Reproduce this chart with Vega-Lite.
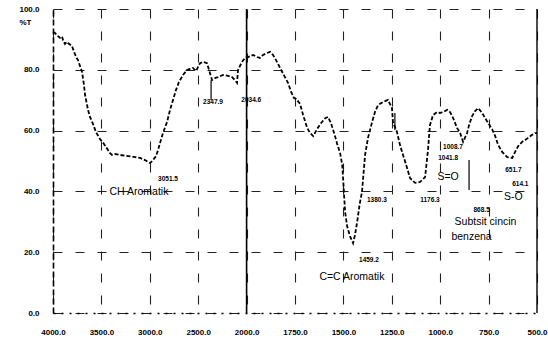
{
  "$schema": "https://vega.github.io/schema/vega-lite/v6.json",
  "width": 484,
  "height": 304,
  "autosize": "none",
  "padding": {"left": 53, "top": 9, "right": 11, "bottom": 26},
  "background": "white",
  "config": {"view": {"stroke": null}, "font": "Liberation Sans"},
  "datasets": {
    "spectrum": [
      {"wn": 4000, "t": 92.4}, {"wn": 3979, "t": 92.1}, {"wn": 3948, "t": 91.1}, {"wn": 3928, "t": 90.5},
      {"wn": 3907, "t": 91.0}, {"wn": 3897, "t": 89.8}, {"wn": 3876, "t": 88.5}, {"wn": 3856, "t": 89.2},
      {"wn": 3845, "t": 88.8}, {"wn": 3804, "t": 87.8}, {"wn": 3762, "t": 84.2}, {"wn": 3742, "t": 83.2},
      {"wn": 3700, "t": 79.3}, {"wn": 3680, "t": 75.0}, {"wn": 3669, "t": 71.7}, {"wn": 3659, "t": 70.1},
      {"wn": 3638, "t": 66.8}, {"wn": 3618, "t": 64.5}, {"wn": 3587, "t": 62.2}, {"wn": 3556, "t": 59.5},
      {"wn": 3514, "t": 57.2}, {"wn": 3473, "t": 55.6}, {"wn": 3432, "t": 53.6}, {"wn": 3411, "t": 52.6},
      {"wn": 3390, "t": 52.0}, {"wn": 3360, "t": 52.3}, {"wn": 3308, "t": 52.0}, {"wn": 3225, "t": 51.6},
      {"wn": 3153, "t": 51.3}, {"wn": 3101, "t": 51.0}, {"wn": 3050, "t": 50.3}, {"wn": 3019, "t": 49.7},
      {"wn": 2998, "t": 49.3}, {"wn": 2967, "t": 50.3}, {"wn": 2936, "t": 51.6}, {"wn": 2915, "t": 53.6},
      {"wn": 2895, "t": 55.9}, {"wn": 2864, "t": 59.2}, {"wn": 2822, "t": 62.8}, {"wn": 2791, "t": 66.8},
      {"wn": 2760, "t": 70.1}, {"wn": 2729, "t": 73.4}, {"wn": 2698, "t": 76.0}, {"wn": 2657, "t": 78.3},
      {"wn": 2616, "t": 79.9}, {"wn": 2585, "t": 80.3}, {"wn": 2554, "t": 80.6}, {"wn": 2523, "t": 79.6},
      {"wn": 2502, "t": 80.9}, {"wn": 2481, "t": 82.2}, {"wn": 2450, "t": 82.6}, {"wn": 2409, "t": 82.2},
      {"wn": 2388, "t": 79.9}, {"wn": 2357, "t": 76.6}, {"wn": 2326, "t": 77.3}, {"wn": 2295, "t": 77.6},
      {"wn": 2244, "t": 78.3}, {"wn": 2192, "t": 78.0}, {"wn": 2151, "t": 77.6}, {"wn": 2120, "t": 76.6},
      {"wn": 2099, "t": 75.7}, {"wn": 2089, "t": 79.9}, {"wn": 2048, "t": 82.6}, {"wn": 2017, "t": 83.9},
      {"wn": 1993, "t": 84.2}, {"wn": 1966, "t": 84.9}, {"wn": 1946, "t": 84.2}, {"wn": 1931, "t": 83.9},
      {"wn": 1915, "t": 84.9}, {"wn": 1895, "t": 85.5}, {"wn": 1879, "t": 85.9}, {"wn": 1864, "t": 84.9},
      {"wn": 1848, "t": 83.2}, {"wn": 1827, "t": 80.6}, {"wn": 1802, "t": 77.6}, {"wn": 1786, "t": 75.7},
      {"wn": 1770, "t": 72.7}, {"wn": 1755, "t": 70.7}, {"wn": 1744, "t": 70.4}, {"wn": 1724, "t": 68.8},
      {"wn": 1708, "t": 65.1}, {"wn": 1687, "t": 60.9}, {"wn": 1672, "t": 59.2}, {"wn": 1656, "t": 58.2},
      {"wn": 1636, "t": 60.5}, {"wn": 1615, "t": 62.5}, {"wn": 1594, "t": 64.1}, {"wn": 1579, "t": 64.5},
      {"wn": 1563, "t": 62.2}, {"wn": 1548, "t": 59.2}, {"wn": 1532, "t": 55.6}, {"wn": 1517, "t": 52.6},
      {"wn": 1506, "t": 48.7}, {"wn": 1501, "t": 43.8}, {"wn": 1496, "t": 38.2}, {"wn": 1491, "t": 33.2},
      {"wn": 1481, "t": 28.6}, {"wn": 1466, "t": 25.3}, {"wn": 1450, "t": 23.0}, {"wn": 1440, "t": 25.7},
      {"wn": 1429, "t": 29.9}, {"wn": 1419, "t": 34.5}, {"wn": 1414, "t": 36.5}, {"wn": 1404, "t": 39.8},
      {"wn": 1388, "t": 52.0}, {"wn": 1373, "t": 57.6}, {"wn": 1352, "t": 62.8}, {"wn": 1337, "t": 66.1},
      {"wn": 1321, "t": 68.4}, {"wn": 1295, "t": 69.4}, {"wn": 1270, "t": 70.1}, {"wn": 1249, "t": 67.4},
      {"wn": 1244, "t": 62.8}, {"wn": 1223, "t": 59.5}, {"wn": 1208, "t": 55.3}, {"wn": 1192, "t": 52.0},
      {"wn": 1171, "t": 47.7}, {"wn": 1156, "t": 44.4}, {"wn": 1130, "t": 42.8}, {"wn": 1104, "t": 43.1},
      {"wn": 1078, "t": 44.7}, {"wn": 1063, "t": 53.6}, {"wn": 1053, "t": 61.8}, {"wn": 1037, "t": 65.1},
      {"wn": 1016, "t": 66.1}, {"wn": 1001, "t": 65.8}, {"wn": 985, "t": 66.1}, {"wn": 964, "t": 66.8},
      {"wn": 949, "t": 66.1}, {"wn": 933, "t": 64.1}, {"wn": 913, "t": 60.9}, {"wn": 897, "t": 59.2},
      {"wn": 882, "t": 56.3}, {"wn": 861, "t": 59.2}, {"wn": 851, "t": 61.8}, {"wn": 835, "t": 64.8},
      {"wn": 820, "t": 66.4}, {"wn": 804, "t": 67.4}, {"wn": 783, "t": 65.8}, {"wn": 768, "t": 64.1},
      {"wn": 752, "t": 62.5}, {"wn": 732, "t": 60.5}, {"wn": 716, "t": 58.2}, {"wn": 701, "t": 55.3},
      {"wn": 680, "t": 53.0}, {"wn": 654, "t": 51.3}, {"wn": 628, "t": 51.0}, {"wn": 613, "t": 53.0},
      {"wn": 597, "t": 54.9}, {"wn": 577, "t": 56.3}, {"wn": 561, "t": 56.9}, {"wn": 546, "t": 57.6},
      {"wn": 525, "t": 58.6}, {"wn": 510, "t": 59.2}, {"wn": 500, "t": 59.2}
    ],
    "notes": [
      {"wn": 3112, "t": 39.8, "label": "CH Aromatik", "kind": "big"},
      {"wn": 1456, "t": 11.8, "label": "C=C Aromatik", "kind": "big"},
      {"wn": 959, "t": 44.7, "label": "S=O", "kind": "big"},
      {"wn": 622, "t": 38.2, "label": "S-O", "kind": "big"},
      {"wn": 766, "t": 29.9, "label": "Subtsit cincin", "kind": "big"},
      {"wn": 838, "t": 25.0, "label": "benzena", "kind": "big"},
      {"wn": 2812, "t": 44.1, "label": "3051.5", "kind": "small"},
      {"wn": 2347, "t": 69.4, "label": "2347.9", "kind": "small"},
      {"wn": 1976, "t": 70.1, "label": "2034.6", "kind": "small"},
      {"wn": 1368, "t": 17.4, "label": "1459.2", "kind": "small"},
      {"wn": 1327, "t": 37.2, "label": "1380.3", "kind": "small"},
      {"wn": 1053, "t": 37.2, "label": "1176.3", "kind": "small"},
      {"wn": 934, "t": 54.6, "label": "1008.7", "kind": "small"},
      {"wn": 959, "t": 51.0, "label": "1041.8", "kind": "small"},
      {"wn": 622, "t": 47.0, "label": "651.7", "kind": "small"},
      {"wn": 586, "t": 42.4, "label": "614.1", "kind": "small"},
      {"wn": 786, "t": 33.9, "label": "868.5", "kind": "small"}
    ],
    "leaders": [
      {"wn": 2367, "t": 76.6, "t2": 70.1},
      {"wn": 1234, "t": 65.8, "t2": 60.2},
      {"wn": 851, "t": 50.3, "t2": 40.5}
    ],
    "vlines": [
      {"wn": 2000, "w": 1.6},
      {"wn": 500, "w": 1.4}
    ]
  },
  "layer": [
    {
      "data": {"name": "spectrum"},
      "mark": {"type": "line", "color": "black", "strokeWidth": 1.8, "strokeDash": [4, 2], "interpolate": "linear"},
      "encoding": {
        "x": {
          "field": "wn", "type": "quantitative",
          "scale": {"type": "linear", "domain": [4000, 2000, 500], "range": [0, 193.6, 484], "nice": false, "zero": false},
          "axis": {
            "values": [4000, 3500, 3000, 2500, 2000, 1750, 1500, 1250, 1000, 750, 500],
            "format": ".1f", "title": null, "ticks": false, "domain": true,
            "domainColor": "black", "domainDash": [2, 6], "domainWidth": 1.5,
            "labelFont": "Liberation Sans", "labelFontSize": 8, "labelFontWeight": "bold", "labelColor": "black",
            "labelPadding": 15, "labelFlush": false, "labelOverlap": false,
            "grid": true, "gridColor": "#222", "gridDash": [9, 13], "gridWidth": 1.1
          }
        },
        "y": {
          "field": "t", "type": "quantitative",
          "scale": {"domain": [0, 100], "nice": false, "zero": false},
          "axis": {
            "values": [0, 10, 20, 30, 40, 50, 60, 70, 80, 90, 100],
            "format": ".1f", "title": "%T", "titleAngle": 0, "titleX": -28, "titleY": 17,
            "titleFont": "Liberation Sans", "titleFontSize": 8, "titleFontWeight": "bold", "titleColor": "black",
            "ticks": false, "domain": true, "domainColor": "black", "domainDash": [6, 3], "domainWidth": 1.6,
            "labelFont": "Liberation Sans", "labelFontSize": 8, "labelFontWeight": "bold", "labelColor": "black",
            "labelPadding": 14, "labelOverlap": false, "labelFlush": false,
            "grid": true, "gridColor": "#222", "gridDash": [9, 13], "gridWidth": 1.1
          }
        }
      }
    },
    {
      "data": {"name": "vlines"},
      "mark": {"type": "rule", "color": "black"},
      "encoding": {
        "x": {"field": "wn", "type": "quantitative"},
        "strokeWidth": {"field": "w", "type": "quantitative", "scale": null}
      }
    },
    {
      "data": {"name": "leaders"},
      "mark": {"type": "rule", "color": "black", "strokeWidth": 1.2},
      "encoding": {
        "x": {"field": "wn", "type": "quantitative"},
        "y": {"field": "t", "type": "quantitative"},
        "y2": {"field": "t2"}
      }
    },
    {
      "data": {"name": "notes"},
      "transform": [{"filter": "datum.kind === 'big'"}],
      "mark": {"type": "text", "font": "Liberation Sans", "fontSize": 10.5, "color": "black", "align": "center", "baseline": "middle"},
      "encoding": {
        "x": {"field": "wn", "type": "quantitative"},
        "y": {"field": "t", "type": "quantitative"},
        "text": {"field": "label"}
      }
    },
    {
      "data": {"name": "notes"},
      "transform": [{"filter": "datum.kind === 'small'"}],
      "mark": {"type": "text", "font": "Liberation Sans", "fontSize": 6.5, "fontWeight": "bold", "color": "black", "align": "center", "baseline": "middle"},
      "encoding": {
        "x": {"field": "wn", "type": "quantitative"},
        "y": {"field": "t", "type": "quantitative"},
        "text": {"field": "label"}
      }
    }
  ]
}
